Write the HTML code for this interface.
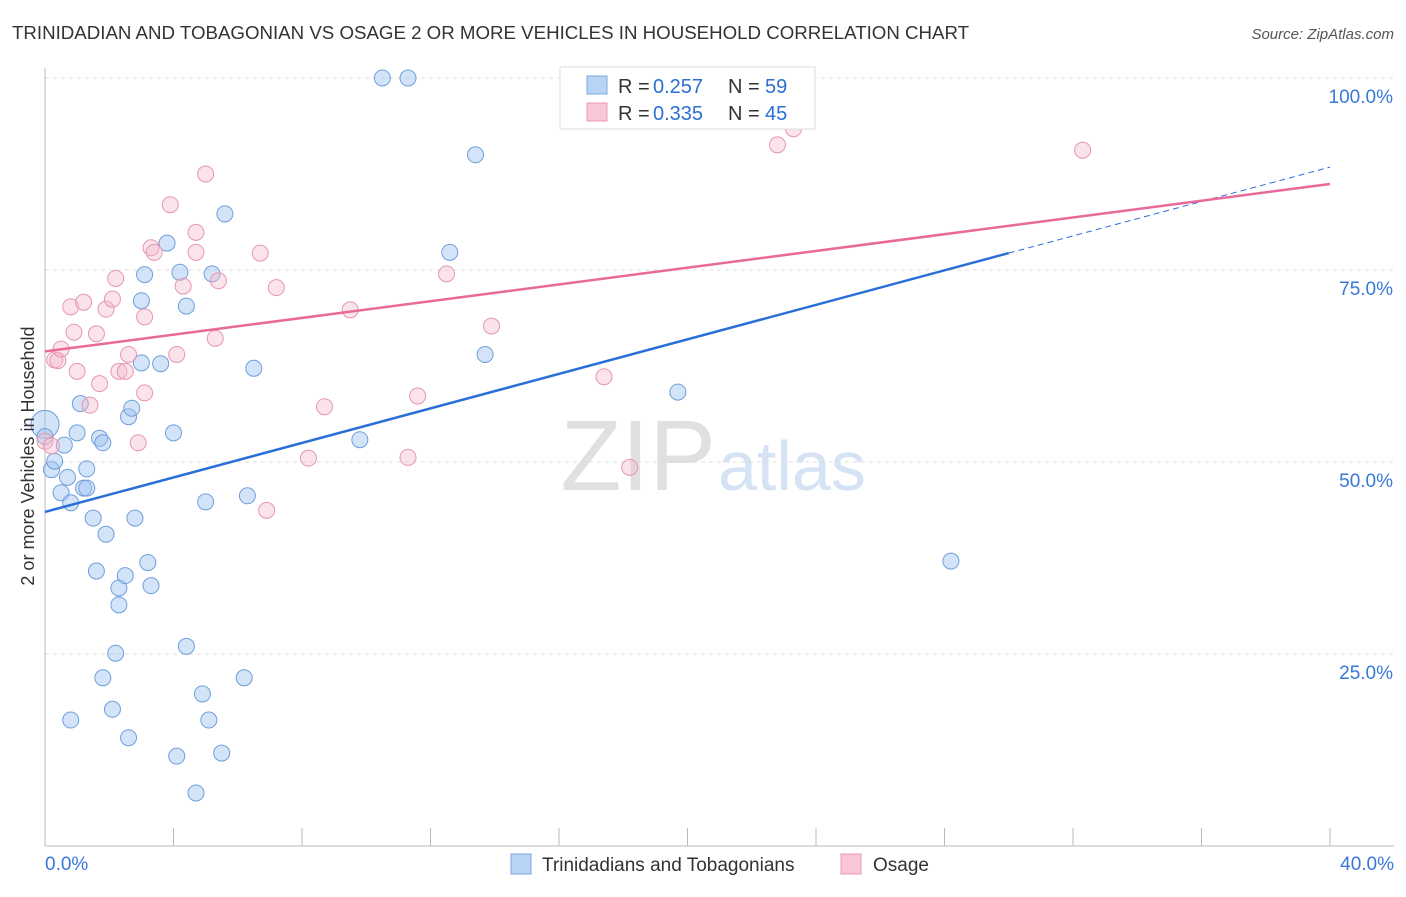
<!DOCTYPE html>
<html><head><meta charset="utf-8"><style>
body{margin:0;background:#fff;font-family:"Liberation Sans",sans-serif}
svg text{font-family:"Liberation Sans",sans-serif}
</style></head><body>
<svg id="c" width="1406" height="892">
<text x="12" y="39" font-size="18.7" fill="#333">TRINIDADIAN AND TOBAGONIAN VS OSAGE 2 OR MORE VEHICLES IN HOUSEHOLD CORRELATION CHART</text>
<text x="1394" y="39" font-size="15" fill="#555" text-anchor="end" font-style="italic">Source: ZipAtlas.com</text>
<text x="716" y="490" font-size="100" fill="#e0e0e0" text-anchor="end" font-family="Liberation Serif">ZIP</text>
<text x="718" y="490" font-size="70" fill="#d5e3f5">atlas</text>
<g id="grid"></g><g id="pts"></g><g id="lines"></g>
<text transform="translate(34,456) rotate(-90)" font-size="18" fill="#333" text-anchor="middle">2 or more Vehicles in Household</text>
<g>
<rect x="560" y="67" width="255" height="62" fill="#fff" stroke="#ddd"/>
<rect x="587" y="76" width="20" height="18" fill="#b8d4f5" stroke="#7aa9e0"/>
<rect x="587" y="103" width="20" height="18" fill="#f8c6d6" stroke="#eb98b4"/>
<text x="618" y="93" font-size="20" fill="#333">R =</text><text x="653" y="93" font-size="20" fill="#2b6fd6">0.257</text>
<text x="728" y="93" font-size="20" fill="#333">N =</text><text x="765" y="93" font-size="20" fill="#2b6fd6">59</text>
<text x="618" y="120" font-size="20" fill="#333">R =</text><text x="653" y="120" font-size="20" fill="#2b6fd6">0.335</text>
<text x="728" y="120" font-size="20" fill="#333">N =</text><text x="765" y="120" font-size="20" fill="#2b6fd6">45</text>
</g>
<g>
<rect x="511" y="854" width="20" height="20" fill="#b8d4f5" stroke="#7aa9e0"/>
<text x="542" y="871" font-size="19" fill="#333">Trinidadians and Tobagonians</text>
<rect x="841" y="854" width="20" height="20" fill="#f8c6d6" stroke="#eb98b4"/>
<text x="873" y="871" font-size="19" fill="#333">Osage</text>
</g>
</svg>
<script>
const blueX=[0,0,0.2,0.3,0.5,0.6,0.7,0.8,0.8,1.0,1.1,1.2,1.3,1.3,1.5,1.6,1.7,1.8,1.9,1.8,2.1,2.2,2.3,2.3,2.5,2.6,2.6,2.7,2.8,3.0,3.0,3.1,3.2,3.3,3.6,3.8,4.0,4.1,4.2,4.4,4.4,4.7,4.9,5.0,5.1,5.2,5.5,5.6,6.2,6.3,6.5,9.8,10.5,11.3,13.4,12.6,13.7,19.7,28.2];
const blueY=[54.9,53.3,49.0,50.1,46.0,52.2,48.0,44.7,16.4,53.8,57.6,46.6,49.1,46.6,42.7,35.8,53.1,52.5,40.6,21.9,17.8,25.1,33.6,31.4,35.2,14.1,55.9,57.0,42.7,62.9,71.0,74.4,36.9,33.9,62.8,78.5,53.8,11.7,74.7,70.3,26.0,6.9,19.8,44.8,16.4,74.5,12.1,82.3,21.9,45.6,62.2,52.9,100,100,90.0,77.3,64.0,59.1,37.1];
const pinkX=[0,0.2,0.3,0.4,0.5,0.8,0.9,1.0,1.2,1.4,1.6,1.7,1.9,2.1,2.2,2.3,2.5,2.6,2.9,3.1,3.1,3.3,3.4,3.9,4.1,4.3,4.7,4.7,5.0,5.3,5.4,6.7,6.9,7.2,8.2,8.7,9.5,11.3,11.6,12.5,13.9,17.4,18.2,22.8,23.3,32.3];
const pinkY=[52.7,52.1,63.3,63.2,64.7,70.2,66.9,61.8,70.8,57.4,66.7,60.2,69.9,71.2,73.9,61.8,61.8,64.0,52.5,68.9,59.0,77.9,77.3,83.5,64.0,72.9,79.9,77.3,87.5,66.1,73.6,77.2,43.7,72.7,50.5,57.2,69.8,50.6,58.6,74.5,67.7,61.1,49.3,91.3,93.4,90.6];
const ticksY=[25,50,75,100], ticksYLabels=["25.0%","50.0%","75.0%","100.0%"];
const xs=v=>45+v/40*1285, ys=v=>846-v*7.68;
const NS="http://www.w3.org/2000/svg";
function mk(t,a,p){const e=document.createElementNS(NS,t);for(const k in a)e.setAttribute(k,a[k]);p.appendChild(e);return e;}
const g=document.getElementById('grid');
ticksY.forEach((v,i)=>{const l=mk('line',{x1:45,x2:1394,y1:ys(v),y2:ys(v),stroke:'#ddd','stroke-dasharray':'4,4'},g);


const t=mk('text',{x:1393,y:ys(v)+25,'font-size':19,fill:'#3a78d8','text-anchor':'end'},g);t.textContent=ticksYLabels[i];

});
const ax=mk('line',{x1:45,x2:45,y1:68,y2:846,stroke:'#bbb'},g);


const bx=mk('line',{x1:45,x2:1394,y1:846,y2:846,stroke:'#bbb'},g);


for(let i=0;i<=10;i++){const tk=mk('line',{x1:xs(i*4),x2:xs(i*4),y1:828,y2:846,stroke:'#bbb'},g);

}
[["0.0%",45,'start'],["40.0%",1394,'end']].forEach(d=>{const t=mk('text',{x:d[1],y:870,'font-size':19,fill:'#3a78d8','text-anchor':d[2]},g);t.textContent=d[0];

});
const p=document.getElementById('pts');
blueX.forEach((x,i)=>{const c=mk('circle',{cx:xs(x),cy:ys(blueY[i]),r:i==0?14:8,fill:'rgba(160,196,240,0.45)',stroke:'#6f9fdc','stroke-width':1},p);

});
pinkX.forEach((x,i)=>{const c=mk('circle',{cx:xs(x),cy:ys(pinkY[i]),r:8,fill:'rgba(246,184,204,0.4)',stroke:'#e796b2','stroke-width':1},p);

});
const L=document.getElementById('lines');
const b1=mk('line',{x1:xs(0),y1:ys(43.5),x2:xs(30),y2:ys(77.2),stroke:'#2a6fd8','stroke-width':2.5},L);


const b2=mk('line',{x1:xs(30),y1:ys(77.2),x2:xs(40),y2:ys(88.4),stroke:'#2a6fd8','stroke-width':1,'stroke-dasharray':'6,4'},L);


const pl=mk('line',{x1:xs(0),y1:ys(64.4),x2:xs(40),y2:ys(86.2),stroke:'#e8699a','stroke-width':2.5},L);


</script>
</body></html>
